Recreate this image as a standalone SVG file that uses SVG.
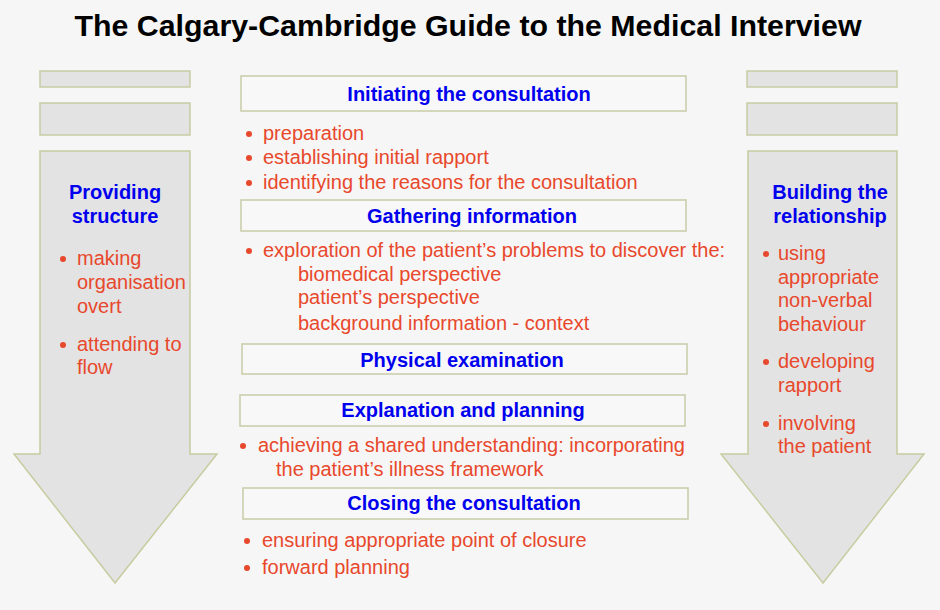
<svg xmlns="http://www.w3.org/2000/svg" width="940" height="610" viewBox="0 0 940 610">
<style>
.bg{fill:#f6f6f6}
.band{fill:#e3e3e3;stroke:#c8cba4;stroke-width:1.5}
.arrow{fill:#e3e3e3;stroke:#c8cca0;stroke-width:1.5;stroke-linejoin:miter}
.box{fill:#f8f8f8;stroke:#c9cca8;stroke-width:1.5}
.title{font-family:"Liberation Sans",Arial,sans-serif;font-weight:bold;font-size:30px;fill:#000}
.head{font-family:"Liberation Sans",Arial,sans-serif;font-weight:bold;font-size:20px;fill:#0000ee}
.item{font-family:"Liberation Sans",Arial,sans-serif;font-size:20px;fill:#e8482c}
.dot{fill:#e8482c}
</style>
<rect class="bg" x="0" y="0" width="940" height="610"/>
<text class="title" x="468" y="36" text-anchor="middle" textLength="787" lengthAdjust="spacingAndGlyphs">The Calgary-Cambridge Guide to the Medical Interview</text>

<g id="providing-structure">
  <rect class="band" x="40" y="71" width="150" height="16"/>
  <rect class="band" x="40" y="103" width="150" height="32"/>
  <path class="arrow" d="M40,151 H190 V454 H217 L115,583 L14,454 H40 Z"/>
  <text class="head" x="115" y="199" text-anchor="middle">Providing</text>
  <text class="head" x="115" y="223" text-anchor="middle">structure</text>
  <circle class="dot" cx="63" cy="259" r="3"/>
  <text class="item" x="77" y="265">making</text>
  <text class="item" x="77" y="289">organisation</text>
  <text class="item" x="77" y="313">overt</text>
  <circle class="dot" cx="63" cy="345" r="3"/>
  <text class="item" x="77" y="351">attending to</text>
  <text class="item" x="77" y="374">flow</text>
</g>

<g id="building-relationship">
  <rect class="band" x="747" y="71" width="150" height="16"/>
  <rect class="band" x="747" y="103" width="150" height="32"/>
  <path class="arrow" d="M748,151 H897 V454 H924 L823,583 L721,454 H748 Z"/>
  <text class="head" x="830" y="199" text-anchor="middle">Building the</text>
  <text class="head" x="830" y="223" text-anchor="middle">relationship</text>
  <circle class="dot" cx="766" cy="254" r="3"/>
  <text class="item" x="778" y="260">using</text>
  <text class="item" x="778" y="284">appropriate</text>
  <text class="item" x="778" y="307">non-verbal</text>
  <text class="item" x="778" y="331">behaviour</text>
  <circle class="dot" cx="766" cy="362" r="3"/>
  <text class="item" x="778" y="368">developing</text>
  <text class="item" x="778" y="392">rapport</text>
  <circle class="dot" cx="766" cy="424" r="3"/>
  <text class="item" x="778" y="430">involving</text>
  <text class="item" x="778" y="453">the patient</text>
</g>

<g id="initiating">
  <rect class="box" x="241" y="76" width="445" height="35"/>
  <text class="head" x="469" y="101" text-anchor="middle">Initiating the consultation</text>
  <circle class="dot" cx="249" cy="134" r="3"/>
  <text class="item" x="263" y="140">preparation</text>
  <circle class="dot" cx="249" cy="158" r="3"/>
  <text class="item" x="263" y="164">establishing initial rapport</text>
  <circle class="dot" cx="249" cy="183" r="3"/>
  <text class="item" x="263" y="189">identifying the reasons for the consultation</text>
</g>

<g id="gathering">
  <rect class="box" x="241" y="200" width="445" height="31"/>
  <text class="head" x="472" y="223" text-anchor="middle">Gathering information</text>
  <circle class="dot" cx="249" cy="251" r="3"/>
  <text class="item" x="263" y="257">exploration of the patient’s problems to discover the:</text>
  <text class="item" x="298" y="281">biomedical perspective</text>
  <text class="item" x="298" y="304">patient’s perspective</text>
  <text class="item" x="298" y="330">background information - context</text>
</g>

<g id="physical">
  <rect class="box" x="242" y="344" width="445" height="30"/>
  <text class="head" x="462" y="367" text-anchor="middle">Physical examination</text>
</g>

<g id="explanation">
  <rect class="box" x="240" y="395" width="445" height="31"/>
  <text class="head" x="463" y="417" text-anchor="middle">Explanation and planning</text>
  <circle class="dot" cx="243" cy="446" r="3"/>
  <text class="item" x="258" y="452">achieving a shared understanding: incorporating</text>
  <text class="item" x="276" y="476">the patient’s illness framework</text>
</g>

<g id="closing">
  <rect class="box" x="243" y="488" width="445" height="31"/>
  <text class="head" x="464" y="510" text-anchor="middle">Closing the consultation</text>
  <circle class="dot" cx="247" cy="541" r="3"/>
  <text class="item" x="262" y="547">ensuring appropriate point of closure</text>
  <circle class="dot" cx="247" cy="568" r="3"/>
  <text class="item" x="262" y="574">forward planning</text>
</g>

<g id="connectors"></g>
</svg>
